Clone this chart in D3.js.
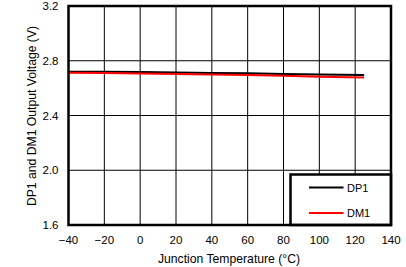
<!DOCTYPE html>
<meta charset="utf-8">
<style>
body { margin: 0; background: #fff; }
text { font-family: "Liberation Sans", Arial, sans-serif; font-size: 11px; fill: #000; }
.tick { font-size: 11.5px; }
.title { font-size: 12.2px; }
</style>
<body>
<svg width="406" height="267"></svg>
<script src="https://d3js.org/d3.v7.min.js"></script>
<script>

var temps = [-40, -20, 0, 20, 40, 60, 80, 100, 125];
var dp1 = [2.720, 2.719, 2.717, 2.714, 2.711, 2.708, 2.704, 2.700, 2.696];
var dm1 = [2.712, 2.710, 2.707, 2.703, 2.699, 2.695, 2.690, 2.684, 2.677];
var xTicks = [-40, -20, 0, 20, 40, 60, 80, 100, 120, 140];
var yTicks = [1.6, 2.0, 2.4, 2.8, 3.2];

var svg = d3.select("svg"),
    pLeft = 68.5, pRight = 391, pTop = 6, pBottom = 225;

var x = d3.scaleLinear().domain([-40, 140]).range([pLeft, pRight]);
var y = d3.scaleLinear().domain([1.6, 3.2]).range([pBottom, pTop]);

// grid
svg.append("g").selectAll("line").data(xTicks.slice(1, -1)).enter().append("line")
    .attr("x1", function(d) { return x(d); }).attr("x2", function(d) { return x(d); })
    .attr("y1", pTop).attr("y2", pBottom)
    .attr("stroke", "#000").attr("stroke-width", 1);
svg.append("g").selectAll("line").data(yTicks.slice(1, -1)).enter().append("line")
    .attr("y1", function(d) { return y(d); }).attr("y2", function(d) { return y(d); })
    .attr("x1", pLeft).attr("x2", pRight)
    .attr("stroke", "#000").attr("stroke-width", 1);

// tick labels
var fmt = function(d) { return d < 0 ? "\u2212" + Math.abs(d) : String(d); };
svg.append("g").selectAll("text").data(xTicks).enter().append("text")
    .attr("class", "tick")
    .attr("x", function(d) { return x(d); }).attr("y", 244)
    .attr("text-anchor", "middle")
    .text(fmt);
svg.append("g").selectAll("text").data(yTicks).enter().append("text")
    .attr("class", "tick")
    .attr("x", 58.5).attr("y", function(d) { return y(d) + 4; })
    .attr("text-anchor", "end")
    .text(function(d) { return d.toFixed(1); });

// titles
svg.append("text")
    .attr("class", "title")
    .attr("x", 229).attr("y", 263)
    .attr("text-anchor", "middle")
    .text("Junction Temperature (\u00B0C)");
svg.append("text")
    .attr("class", "title")
    .attr("transform", "translate(36,116) rotate(-90)")
    .attr("text-anchor", "middle")
    .text("DP1 and DM1 Output Voltage (V)");

// series
var line = function(vals) {
  return d3.line()
      .x(function(d, i) { return x(temps[i]); })
      .y(function(d) { return y(d); })(vals);
};
svg.append("path").attr("d", line(dp1))
    .attr("fill", "none").attr("stroke", "#000").attr("stroke-width", 2);
svg.append("path").attr("d", line(dm1))
    .attr("fill", "none").attr("stroke", "#ff0000").attr("stroke-width", 2);

// legend
var lg = svg.append("g");
lg.append("rect")
    .attr("x", 290.5).attr("y", 174.5).attr("width", pRight - 290.5).attr("height", pBottom - 174.5)
    .attr("fill", "#fff").attr("stroke", "#000").attr("stroke-width", 2.5);
var items = [["DP1", "#000", 187.5], ["DM1", "#ff0000", 213]];
items.forEach(function(it) {
  lg.append("line").attr("x1", 309).attr("x2", 343.5).attr("y1", it[2]).attr("y2", it[2])
      .attr("stroke", it[1]).attr("stroke-width", 2);
  lg.append("text").attr("x", 347).attr("y", it[2] + 4).text(it[0]);
});

// frame
svg.append("rect")
    .attr("x", pLeft).attr("y", pTop).attr("width", pRight - pLeft).attr("height", pBottom - pTop)
    .attr("fill", "none").attr("stroke", "#000").attr("stroke-width", 2.5);

</script>
</body>
